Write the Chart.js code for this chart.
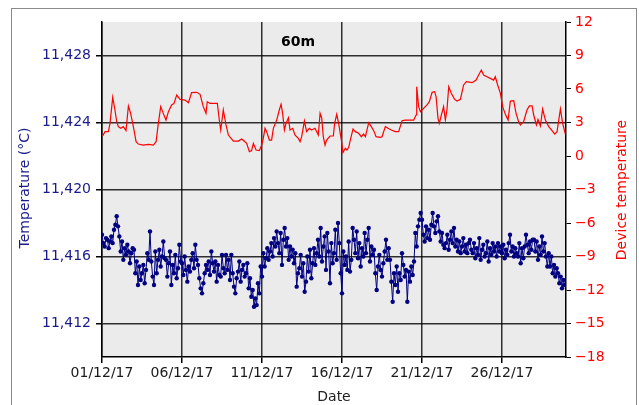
<!DOCTYPE html>
<html>
<head>
<meta charset="utf-8">
<script src="https://cdn.jsdelivr.net/npm/chart.js@4/dist/chart.umd.min.js"></script>
<style>
html, body { margin: 0; padding: 0; background: #fff; }
canvas { display: block; }
</style>
</head>
<body>
<canvas id="myChart" width="639" height="405"></canvas>
<script>
// x axis: days since 01/12/17
const tickDays = [0, 5, 10, 15, 20, 25];
const tickLabels = ['01/12/17', '06/12/17', '11/12/17', '16/12/17', '21/12/17', '26/12/17'];
const leftTicks = [11.412, 11.416, 11.420, 11.424, 11.428];

// water temperature at 60m, 12 readings per day (every 2 h)
const samplesPerDay = 12;
const waterTemp = [
  [11.4173, 11.4168, 11.4166, 11.4171, 11.4170, 11.4165, 11.4169, 11.4172, 11.4168, 11.4176, 11.4179, 11.4184],
  [11.4178, 11.4172, 11.4163, 11.4169, 11.4158, 11.4165, 11.4161, 11.4167, 11.4163, 11.4156, 11.4162, 11.4165],
  [11.4164, 11.4150, 11.4157, 11.4143, 11.4154, 11.4146, 11.4150, 11.4155, 11.4144, 11.4152, 11.4162, 11.4158],
  [11.4175, 11.4157, 11.4148, 11.4143, 11.4163, 11.4150, 11.4158, 11.4164, 11.4154, 11.4160, 11.4169, 11.4159],
  [11.4158, 11.4148, 11.4156, 11.4163, 11.4143, 11.4155, 11.4150, 11.4161, 11.4147, 11.4153, 11.4167, 11.4157],
  [11.4156, 11.4149, 11.4160, 11.4152, 11.4145, 11.4154, 11.4151, 11.4158, 11.4162, 11.4153, 11.4167, 11.4158],
  [11.4155, 11.4147, 11.4141, 11.4138, 11.4144, 11.4150, 11.4155, 11.4152, 11.4157, 11.4149, 11.4163, 11.4156],
  [11.4151, 11.4157, 11.4145, 11.4155, 11.4149, 11.4148, 11.4161, 11.4153, 11.4150, 11.4161, 11.4152, 11.4158],
  [11.4146, 11.4161, 11.4150, 11.4142, 11.4138, 11.4147, 11.4151, 11.4157, 11.4145, 11.4152, 11.4155, 11.4148],
  [11.4150, 11.4156, 11.4141, 11.4147, 11.4136, 11.4140, 11.4130, 11.4135, 11.4131, 11.4144, 11.4138, 11.4154],
  [11.4148, 11.4162, 11.4154, 11.4159, 11.4165, 11.4158, 11.4163, 11.4168, 11.4160, 11.4171, 11.4166, 11.4175],
  [11.4168, 11.4162, 11.4174, 11.4155, 11.4170, 11.4177, 11.4166, 11.4171, 11.4158, 11.4166, 11.4160, 11.4164],
  [11.4156, 11.4162, 11.4142, 11.4150, 11.4153, 11.4161, 11.4148, 11.4156, 11.4139, 11.4145, 11.4160, 11.4151],
  [11.4164, 11.4147, 11.4156, 11.4165, 11.4155, 11.4162, 11.4170, 11.4160, 11.4177, 11.4157, 11.4166, 11.4172],
  [11.4152, 11.4174, 11.4163, 11.4144, 11.4168, 11.4156, 11.4162, 11.4176, 11.4158, 11.4180, 11.4168, 11.4150],
  [11.4138, 11.4163, 11.4155, 11.4160, 11.4152, 11.4169, 11.4151, 11.4158, 11.4177, 11.4170, 11.4162, 11.4175],
  [11.4159, 11.4168, 11.4154, 11.4165, 11.4160, 11.4174, 11.4162, 11.4170, 11.4177, 11.4157, 11.4166, 11.4161],
  [11.4164, 11.4150, 11.4140, 11.4154, 11.4161, 11.4152, 11.4148, 11.4156, 11.4163, 11.4170, 11.4158, 11.4165],
  [11.4158, 11.4145, 11.4133, 11.4150, 11.4143, 11.4154, 11.4139, 11.4150, 11.4146, 11.4162, 11.4155, 11.4148],
  [11.4152, 11.4133, 11.4151, 11.4145, 11.4154, 11.4149, 11.4157, 11.4174, 11.4166, 11.4178, 11.4182, 11.4186],
  [11.4182, 11.4173, 11.4169, 11.4178, 11.4171, 11.4176, 11.4170, 11.4179, 11.4186, 11.4178, 11.4174, 11.4181],
  [11.4184, 11.4175, 11.4169, 11.4174, 11.4167, 11.4165, 11.4168, 11.4173, 11.4164, 11.4170, 11.4175, 11.4168],
  [11.4177, 11.4166, 11.4170, 11.4163, 11.4169, 11.4162, 11.4166, 11.4171, 11.4163, 11.4167, 11.4162, 11.4168],
  [11.4170, 11.4164, 11.4162, 11.4168, 11.4159, 11.4165, 11.4161, 11.4171, 11.4158, 11.4164, 11.4167, 11.4160],
  [11.4162, 11.4169, 11.4157, 11.4165, 11.4161, 11.4168, 11.4163, 11.4166, 11.4160, 11.4168, 11.4163, 11.4166],
  [11.4162, 11.4167, 11.4159, 11.4164, 11.4161, 11.4168, 11.4173, 11.4163, 11.4166, 11.4160, 11.4165, 11.4162],
  [11.4160, 11.4168, 11.4156, 11.4165, 11.4159, 11.4166, 11.4173, 11.4167, 11.4162, 11.4169, 11.4164, 11.4170],
  [11.4170, 11.4163, 11.4169, 11.4158, 11.4166, 11.4161, 11.4172, 11.4163, 11.4168, 11.4160, 11.4154, 11.4162],
  [11.4154, 11.4160, 11.4150, 11.4155, 11.4148, 11.4153, 11.4150, 11.4144, 11.4148, 11.4141, 11.4146, 11.4143],
  [11.4143]
];

// device temperature (right axis)
const deviceDays = [
  0.04, 0.19, 0.40, 0.50, 0.67, 0.81, 0.92, 1.02, 1.17, 1.33, 1.50, 1.65, 1.79, 1.96,
  2.13, 2.27, 2.58, 2.90, 3.21, 3.38, 3.52, 3.67, 3.83, 4.00, 4.15, 4.35, 4.50, 4.67,
  4.88, 5.19, 5.40, 5.60, 5.92, 6.13, 6.33, 6.50, 6.58, 6.75, 7.06, 7.21, 7.33, 7.42,
  7.58, 7.75, 7.90, 8.21, 8.52, 8.73, 8.88, 9.04, 9.21, 9.35, 9.46, 9.63, 9.83, 9.98,
  10.08, 10.19, 10.29, 10.46, 10.60, 10.71, 10.92, 11.08, 11.19, 11.29, 11.40, 11.50,
  11.65, 11.75, 11.92, 12.06, 12.27, 12.38, 12.48, 12.65, 12.79, 12.96, 13.10, 13.31,
  13.42, 13.52, 13.63, 13.73, 13.83, 13.94, 14.04, 14.25, 14.46, 14.54, 14.67, 14.79,
  14.96, 15.06, 15.21, 15.31, 15.42, 15.52, 15.69, 15.83, 16.04, 16.21, 16.35, 16.46,
  16.67, 16.83, 16.98, 17.13, 17.40, 17.50, 17.71, 17.88, 18.08, 18.33, 18.54, 18.75,
  18.96, 19.48, 19.63, 19.67, 19.79, 19.90, 20.04, 20.31, 20.46, 20.63, 20.79, 20.88,
  21.00, 21.08, 21.21, 21.35, 21.46, 21.56, 21.67, 21.83, 22.04, 22.19, 22.40, 22.60,
  22.77, 23.13, 23.38, 23.54, 23.71, 23.85, 24.06, 24.27, 24.48, 24.58, 24.73, 24.90,
  25.04, 25.21, 25.38, 25.52, 25.73, 25.88, 26.04, 26.15, 26.35, 26.56, 26.71, 26.88,
  26.98, 27.15, 27.25, 27.40, 27.54, 27.71, 27.92, 28.13, 28.29, 28.44, 28.65, 28.79, 28.96
];
const deviceTemp = [
  1.79, 2.18, 2.18, 2.92, 5.25, 4.12, 3.07, 2.63, 2.48, 2.63, 2.27, 4.48, 3.82, 2.63,
  1.28, 1.07, 0.98, 1.04, 0.98, 1.28, 2.92, 4.42, 3.82, 3.22, 3.97, 4.57, 4.71, 5.46,
  5.07, 5.01, 4.77, 5.67, 5.70, 5.52, 4.42, 3.82, 4.86, 4.71, 4.71, 4.71, 3.22, 2.33,
  4.12, 2.78, 1.88, 1.34, 1.34, 1.52, 1.34, 1.13, 0.39, 0.48, 1.13, 0.54, 0.48, 0.98,
  1.58, 2.48, 2.18, 1.43, 1.43, 2.48, 3.22, 4.12, 4.63, 3.82, 2.33, 2.92,
  3.43, 2.33, 2.48, 1.88, 1.58, 1.28, 1.73, 3.13, 2.18, 2.48, 2.33, 2.48,
  2.18, 1.88, 3.82, 3.43, 1.73, 0.98, 1.43, 1.79, 1.79, 2.92, 3.73, 2.92,
  1.43, 0.30, 0.69, 0.54, 0.78, 1.43, 2.42, 2.18, 2.03, 1.73, 1.97, 1.73,
  2.98, 2.63, 2.27, 1.73, 1.67, 1.73, 2.63, 2.48, 2.33, 2.18, 2.18, 3.16,
  3.22, 3.22, 3.67, 6.21, 4.42, 3.97, 4.18, 4.57, 4.86, 5.70, 5.76, 5.31,
  3.37, 2.92, 3.67, 4.42, 3.22, 4.12, 6.21, 5.61, 5.07, 4.92, 5.07, 6.36,
  6.66, 6.57, 6.80, 7.25, 7.70, 7.25, 7.10, 6.95, 6.80, 7.10, 6.36, 5.61,
  4.42, 3.73, 3.22, 4.92, 4.95, 3.82, 3.07, 2.78, 3.07, 4.12, 4.48, 4.48,
  3.67, 2.78, 3.28, 2.69, 4.21, 3.22, 2.63, 2.27, 1.97, 2.18, 4.21, 2.92, 1.97
];

const waterPoints = [];
waterTemp.forEach((row, d) => {
  row.forEach((v, k) => waterPoints.push({ x: d + k / samplesPerDay, y: v }));
});
const devicePoints = deviceDays.map((d, i) => ({ x: d, y: deviceTemp[i] }));

const FONT = 'DejaVu Sans';
const NAVY = '#000080';

const decor = {
  id: 'decor',
  beforeDraw(chart) {
    const { ctx, chartArea: a } = chart;
    ctx.save();
    ctx.fillStyle = '#fff';
    ctx.fillRect(0, 0, chart.width, chart.height);
    ctx.strokeStyle = '#8a8a8a';
    ctx.lineWidth = 1;
    ctx.strokeRect(11.5, 8.5, 625, 430);
    ctx.fillStyle = '#ecebec';
    ctx.fillRect(a.left, a.top, a.right - a.left, a.bottom - a.top);
    ctx.restore();
  },
  afterDraw(chart) {
    const { ctx, chartArea: a } = chart;
    ctx.save();
    ctx.textAlign = 'center';
    ctx.textBaseline = 'middle';
    ctx.font = 'bold 14px "' + FONT + '"';
    ctx.fillStyle = '#000';
    ctx.fillText('60m', 298, 42);
    ctx.font = '14px "' + FONT + '"';
    ctx.fillStyle = '#222';
    ctx.fillText('Date', (a.left + a.right) / 2, 397);
    ctx.translate(25, 188);
    ctx.rotate(-Math.PI / 2);
    ctx.fillStyle = '#1a1a8a';
    ctx.fillText('Temperature (°C)', 0, 0);
    ctx.restore();
    ctx.save();
    ctx.font = '14px "' + FONT + '"';
    ctx.textAlign = 'center';
    ctx.textBaseline = 'middle';
    ctx.translate(622, 190);
    ctx.rotate(-Math.PI / 2);
    ctx.fillStyle = '#ff0000';
    ctx.fillText('Device temperature', 0, 0);
    ctx.restore();
  }
};

const config = {
  type: 'line',
  data: {
    datasets: [
      {
        label: 'Device temperature',
        data: devicePoints,
        yAxisID: 'y2',
        borderColor: '#ff0000',
        borderWidth: 1.2,
        pointRadius: 0,
        tension: 0
      },
      {
        label: 'Temperature',
        data: waterPoints,
        yAxisID: 'y',
        borderColor: NAVY,
        borderWidth: 1,
        pointRadius: 2.2,
        pointBackgroundColor: NAVY,
        pointBorderWidth: 0,
        tension: 0
      }
    ]
  },
  options: {
    responsive: false,
    animation: false,
    devicePixelRatio: 1,
    layout: { padding: { top: 22, left: 0, right: 0, bottom: 0 } },
    plugins: { legend: { display: false }, tooltip: { enabled: false } },
    scales: {
      x: {
        type: 'linear',
        min: 0,
        max: 29,
        afterBuildTicks: s => { s.ticks = tickDays.map(v => ({ value: v })); },
        afterFit: s => { s.height = 48; },
        ticks: {
          callback: (v, i) => tickLabels[i],
          color: '#1a1a1a',
          font: { family: FONT, size: 14 },
          padding: 2,
          maxRotation: 0,
          autoSkip: false
        },
        grid: { color: 'rgba(0,0,0,0.8)', lineWidth: 1.5, tickLength: 6, tickColor: '#000' },
        border: { color: '#000', width: 1.5 }
      },
      y: {
        position: 'left',
        min: 11.410,
        max: 11.430,
        afterBuildTicks: s => { s.ticks = leftTicks.map(v => ({ value: v })); },
        afterFit: s => { s.width = 102; },
        ticks: {
          callback: v => v.toFixed(3).replace('.', ','),
          color: '#1a1a8a',
          font: { family: FONT, size: 14 },
          padding: 5
        },
        grid: { color: 'rgba(0,0,0,0.8)', lineWidth: 1.5, tickLength: 6, tickColor: '#000' },
        border: { color: '#000', width: 1.5 }
      },
      y2: {
        position: 'right',
        min: -18,
        max: 12,
        afterFit: s => { s.width = 73; },
        ticks: {
          stepSize: 3,
          callback: v => String(v).replace('-', '\u2212'),
          color: '#ff0000',
          font: { family: FONT, size: 14 },
          padding: 4
        },
        grid: { drawOnChartArea: false, tickLength: 5, tickColor: '#000' },
        border: { color: '#000', width: 1.5 }
      }
    }
  },
  plugins: [decor]
};

const myChart = new Chart(document.getElementById('myChart'), config);
</script>
</body>
</html>
